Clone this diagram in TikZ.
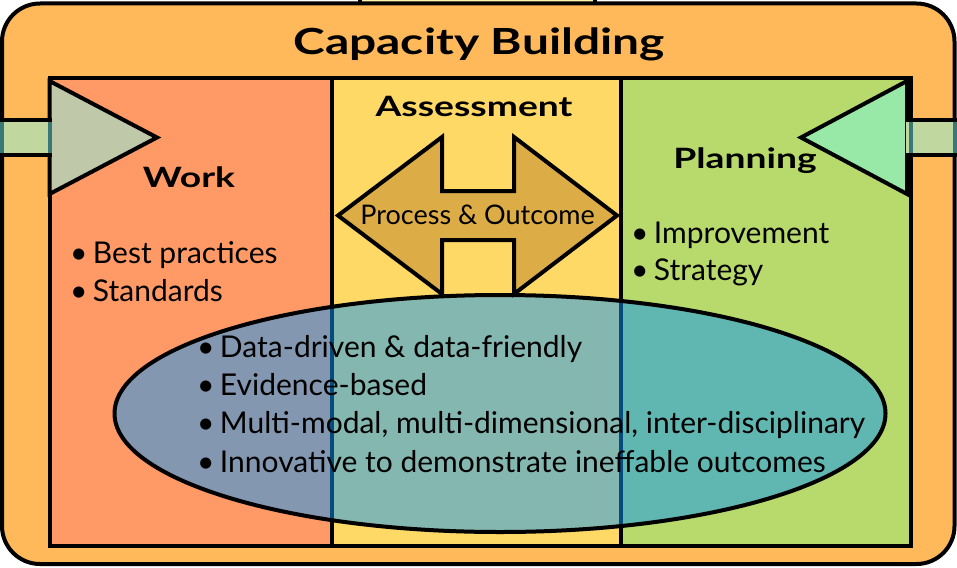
\documentclass[tikz,border=0pt]{standalone}
\usepackage{fontspec}
\setmainfont{Lato}
\newfontfamily\headfont{Lato}[FakeStretch=1.33]
\usetikzlibrary{positioning,shapes.geometric}
\definecolor{capacity}{RGB}{255,185,91}
\definecolor{work}{RGB}{255,154,102}
\definecolor{assess}{RGB}{255,217,102}
\definecolor{plan}{RGB}{184,217,107}
\definecolor{workarrow}{RGB}{192,200,170}
\definecolor{planarrow}{RGB}{152,232,168}
\definecolor{linkfill}{RGB}{192,216,160}
\definecolor{linkedge}{RGB}{58,120,120}
\definecolor{process}{RGB}{220,172,70}
\definecolor{evidence}{RGB}{10,150,250}
\definecolor{tab}{RGB}{255,242,170}
\newcommand{\bitem}{\makebox[23pt][l]{\textbullet}}
\begin{document}
\begin{tikzpicture}[x=1pt,y=-1pt]
  \tikzstyle{every node}=[inner sep=0pt,outer sep=0pt]
  \tikzstyle{frame}=[draw,line width=4pt]
  \tikzstyle{column}=[frame,rectangle,minimum height=467.5pt,anchor=north west]
  \tikzstyle{heading}=[anchor=base,font=\fontsize{28}{34}\selectfont\headfont\bfseries]
  \tikzstyle{bullet}=[anchor=base west,font=\fontsize{30}{38}\selectfont]
  \useasboundingbox (0,0) rectangle (957,567);
  % tab above and outer box
  \draw[frame,fill=tab] (360,-6) rectangle (595,4);
  \draw[frame,fill=capacity,rounded corners=38pt] (2,3.5) rectangle (954.5,564);
  \node[heading,font=\fontsize{36}{40}\selectfont\headfont\bfseries] (title) at (479,55) {Capacity Building};
  % the three columns
  \node[column,fill=work,minimum width=282pt] (work) at (49.5,78) {};
  \node[column,fill=assess,minimum width=289pt] (assess) at (work.north east) {};
  \node[column,fill=plan,minimum width=290pt] (plan) at (assess.north east) {};
  \node[heading] (worktitle) at (189,187) {Work};
  \node[heading] (assesstitle) at (474,117) {Assessment};
  \node[heading] (plantitle) at (745,168) {Planning};
  % double arrow
  \draw[frame,fill=process] (338,215.5) -- (442,137) -- (442,191) -- (514,191)
    -- (514,137) -- (617,215.5) -- (514,294) -- (514,240) -- (442,240)
    -- (442,294) -- cycle;
  \node[anchor=base,font=\fontsize{27}{30}\selectfont] (process) at (477.5,224) {Process \& Outcome};
  % in and out arrows
  \draw[frame,fill=workarrow] (49.5,81) -- (157,137.5) -- (49.5,194) -- cycle;
  \draw[frame,fill=planarrow] (907,81) -- (801,137.5) -- (907,194) -- cycle;
  \fill[linkfill] (-2,122) rectangle (51,153);
  \fill[linkfill] (906,122) rectangle (960,153);
  \draw[linkedge,line width=4pt] (2,122) -- (2,153) (49.5,122) -- (49.5,153)
    (910.5,122) -- (910.5,153) (954.5,122) -- (954.5,153);
  \draw[frame] (-2,120) -- (51.5,120) (-2,155) -- (51.5,155)
    (906,120) -- (960,120) (906,155) -- (960,155);
  % bullets
  \node[bullet] (best) at (70,263) {\bitem Best practices};
  \node[bullet] (std) at (70,301) {\bitem Standards};
  \node[bullet] (impr) at (631,243) {\bitem Improvement};
  \node[bullet] (strat) at (631,280) {\bitem Strategy};
  % evidence ellipse
  \node[frame,ellipse,fill=evidence,fill opacity=0.5,minimum width=771pt,minimum height=237pt] (evidence) at (500,413.5) {};
  \node[bullet] (data) at (197,357) {\bitem Data-driven \& data-friendly};
  \node[bullet] (evid) at (197,395) {\bitem Evidence-based};
  \node[bullet] (multi) at (197,433) {\bitem Multi-modal, multi-dimensional, inter-disciplinary};
  \node[bullet] (innov) at (197,472) {\bitem Innovative to demonstrate ineffable outcomes};
\end{tikzpicture}
\end{document}
